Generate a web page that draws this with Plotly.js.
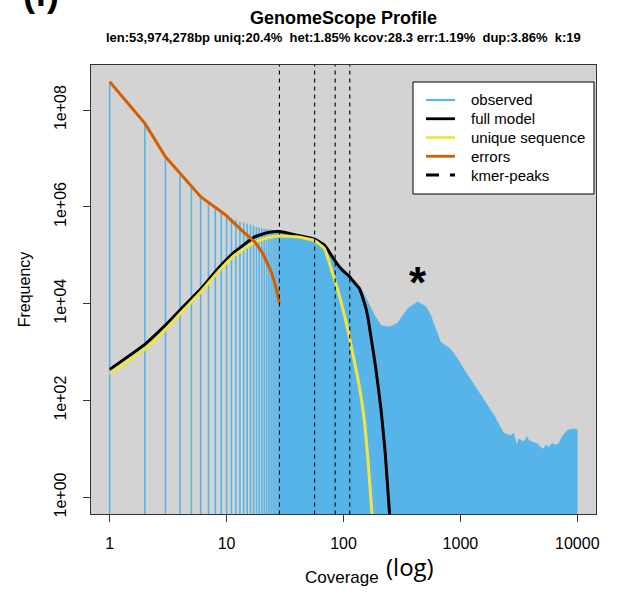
<!DOCTYPE html>
<html>
<head>
<meta charset="utf-8">
<script src="https://cdn.plot.ly/plotly-3.0.1.min.js"></script>
<style>
html,body{margin:0;padding:0;background:#fff;}
#chart{width:618px;height:592px;}
</style>
</head>
<body>
<div id="chart"></div>
<script>
// ---- data ----
const obsLowCoverage = [1,2,3,4,5,6,7,8,9,10,11,12,13,14,15,16,17,18,19,20,21,22,23,24,25,26,27,28];
const obsLowFreq = [3.85e8,5.31e7,1.08e7,4.90e6,2.60e6,1.66e6,1.15e6,8.9e5,7.1e5,6.5e5,5.9e5,5.4e5,5.0e5,4.7e5,4.5e5,4.3e5,4.1e5,3.9e5,3.7e5,3.6e5,3.55e5,3.47e5,3.39e5,3.31e5,3.24e5,3.16e5,3.09e5,3.02e5];

const obsHighCoverage = [28,35,45,57,65,75,85,100,116,141,161,183,209,246,290,353,430,506,557,600,678,826,942,1100,1305,1600,1934,2351,2683,2864,3018,3158,3282,3483,3722,3847,4110,4531,4835,5160,5333,5690,6080,6490,6930,7410,7910,8440,9300,10000];
const obsHighFreq = [3.02e5,2.9e5,2.6e5,2.3e5,1.9e5,1.2e5,8.3e4,5.0e4,3.3e4,2.1e4,1.12e4,5.9e3,3.6e3,3.3e3,4.0e3,7.9e3,1.10e4,8.7e3,5.8e3,3.5e3,1.6e3,1.15e3,740,400,210,100,50,21,19,21,12,16,15,14,18,15,14,13,11,10,12,11,13,12,13,18,22,25,26,25];

const modelCoverage = [1,2,3,4,6,8.5,11.7,17.4,22.6,28.3,40,53,57,68.7,84,92,100,112,123,136,145,155.6,163,171.6,189,209,227,246,260];
const modelFreq = [440,1450,3600,7400,2.0e4,5.4e4,1.17e5,2.4e5,2.95e5,3.1e5,2.6e5,2.24e5,2.14e5,1.62e5,7.9e4,5.8e4,4.7e4,3.7e4,2.8e4,2.1e4,1.4e4,8.0e3,4.6e3,2.1e3,460,68,8.7,0.58,0.1];

const uniqueCoverage = [1,2,3,4,6,8.5,11.7,17.4,22.6,28.3,40,56.6,68.7,78.2,89,95.2,108,116,136,150,164,175,185];
const uniqueFreq = [355,1150,2950,6200,1.74e4,4.6e4,1.0e5,1.86e5,2.3e5,2.5e5,2.4e5,2.0e5,1.38e5,5.4e4,2.0e4,1.1e4,3.2e3,1.38e3,210,43,4,0.47,0.08];

const errorsCoverage = [1,2,3,4,6,9.8,13.4,17.4,20.4,24.3,26.8,28.3];
const errorsFreq = [3.85e8,5.3e7,1.08e7,4.9e6,1.62e6,6.8e5,3.3e5,1.9e5,1.1e5,4.3e4,1.9e4,1.02e4];

const kcov = 28.3;
const kmerPeaks = [kcov*1, kcov*2, kcov*3, kcov*4];

const xTickVals = [1,10,100,1000,10000];
const xTickText = ["1","10","100","1000","10000"];
const yTickVals = [1,1e2,1e4,1e6,1e8];
const yTickText = ["1e+00","1e+02","1e+04","1e+06","1e+08"];

const titleText = "GenomeScope Profile";
const subtitleText = "len:53,974,278bp uniq:20.4%  het:1.85% kcov:28.3 err:1.19%  dup:3.86%  k:19";
const legendNames = ["observed","full model","unique sequence","errors","kmer-peaks"];

// ---- styles ----
const C_OBS = "#56B4E9", C_FULL = "#000000", C_UNIQ = "#F0E442", C_ERR = "#D55E00";
const legendColors = [C_OBS, C_FULL, C_UNIQ, C_ERR, "#000000"];
const legendDash = ["solid","solid","solid","solid","13px,11px"];
const BASE = 1e-3;      // below the visible range; clipped by the plot area
const TOP = 1e12;       // above the visible range
const FONT = "Liberation Sans, Arial, Helvetica, sans-serif";

// plot-area pixel helpers for placing decorations (paper coordinates)
const PL = 91, PR = 596, PT = 65, PB = 514;
const px2x = p => (p - PL) / (PR - PL);
const py2y = p => (PB - p) / (PB - PT);

// observed: vertical "h" lines at low coverage
const hx = [], hy = [];
obsLowCoverage.forEach((c,i)=>{ hx.push(c,c,null); hy.push(BASE, obsLowFreq[i], null); });
// observed: dense part as filled area
const fx = obsHighCoverage.concat([obsHighCoverage[obsHighCoverage.length-1], obsHighCoverage[0]]);
const fy = obsHighFreq.concat([BASE, BASE]);
// kmer peaks
const kx = [], ky = [];
kmerPeaks.forEach(p=>{ kx.push(p,p,null); ky.push(BASE, TOP, null); });

const traces = [
  {x: fx, y: fy, type:"scatter", mode:"lines", fill:"toself", fillcolor:C_OBS,
   line:{color:C_OBS, width:0.5}, showlegend:false, hoverinfo:"skip"},
  {x: hx, y: hy, type:"scatter", mode:"lines", name:legendNames[0],
   line:{color:C_OBS, width:1.6}},
  {x: modelCoverage, y: modelFreq, type:"scatter", mode:"lines", name:legendNames[1],
   line:{color:C_FULL, width:3, shape:"spline", smoothing:0.4}},
  {x: uniqueCoverage, y: uniqueFreq, type:"scatter", mode:"lines", name:legendNames[2],
   line:{color:C_UNIQ, width:3, shape:"spline", smoothing:0.4}},
  {x: errorsCoverage, y: errorsFreq, type:"scatter", mode:"lines", name:legendNames[3],
   line:{color:C_ERR, width:3}},
  {x: kx, y: ky, type:"scatter", mode:"lines", name:legendNames[4],
   line:{color:"#000", width:1.1, dash:"4px,4px"}}
];

// manual legend (R-style box)
const shapes = [
  {type:"rect", xref:"paper", yref:"paper", x0:px2x(413), x1:px2x(594), y0:py2y(194), y1:py2y(82),
   fillcolor:"#ffffff", line:{color:"#000", width:1}, layer:"above"}
];
const legendRowsY = [100, 118.75, 137.5, 156.25, 175];
const annotations = [];
legendNames.forEach((n,i)=>{
  shapes.push({type:"line", xref:"paper", yref:"paper", x0:px2x(426), x1:px2x(455),
    y0:py2y(legendRowsY[i]), y1:py2y(legendRowsY[i]),
    line:{color:legendColors[i], width:i===0?2.2:2.8, dash:legendDash[i]}, layer:"above"});
  annotations.push({text:n, xref:"paper", yref:"paper", x:px2x(469), y:py2y(legendRowsY[i]),
    xanchor:"left", yanchor:"middle", showarrow:false, font:{size:15}});
});

annotations.push(
  {text:"<b>"+titleText+"</b>", xref:"paper", yref:"paper", x:0.5, y:py2y(18),
   xanchor:"center", yanchor:"middle", showarrow:false, font:{size:18}},
  {text:"<b>"+subtitleText+"</b>", xref:"paper", yref:"paper", x:0.5, y:py2y(38),
   xanchor:"center", yanchor:"middle", showarrow:false, font:{size:13}},
  {text:"Coverage", xref:"paper", yref:"paper", x:px2x(342), y:py2y(577),
   xanchor:"center", yanchor:"middle", showarrow:false, font:{size:17}},
  {text:"(log)", xref:"paper", yref:"paper", x:px2x(410), y:py2y(566),
   xanchor:"center", yanchor:"middle", showarrow:false, font:{size:24, family:"Open Sans, DejaVu Sans, sans-serif"}},
  {text:"<b>*</b>", xref:"paper", yref:"paper", x:px2x(418), y:py2y(282),
   xanchor:"center", yanchor:"middle", showarrow:false, font:{size:44}},
  {text:"<b>(f)</b>", xref:"paper", yref:"paper", x:px2x(41), y:py2y(-6),
   xanchor:"center", yanchor:"middle", showarrow:false, font:{size:36}}
);

const layout = {
  width:618, height:592,
  margin:{l:PL, r:618-PR, t:PT, b:592-PB, pad:0},
  paper_bgcolor:"#ffffff", plot_bgcolor:"#D3D3D3",
  font:{family:FONT, color:"#000", size:16},
  showlegend:false,
  xaxis:{type:"log", range:[-0.16,4.16], tickvals:xTickVals, ticktext:xTickText,
    ticks:"outside", ticklen:7, tickcolor:"#333", tickwidth:1,
    showline:true, linecolor:"#333", linewidth:1, mirror:true,
    showgrid:false, zeroline:false, tickfont:{size:16}, ticklabelstandoff:8},
  yaxis:{type:"log", range:[-0.344,8.93], tickvals:yTickVals, ticktext:yTickText,
    ticks:"outside", ticklen:7, tickcolor:"#333", tickwidth:1, tickangle:-90,
    showline:true, linecolor:"#333", linewidth:1, mirror:true,
    showgrid:false, zeroline:false, tickfont:{size:16}, ticklabelstandoff:11,
    title:{text:"Frequency", font:{size:16}, standoff:16}},
  shapes: shapes,
  annotations: annotations
};

Plotly.newPlot("chart", traces, layout, {staticPlot:true, displayModeBar:false});
</script>
</body>
</html>
